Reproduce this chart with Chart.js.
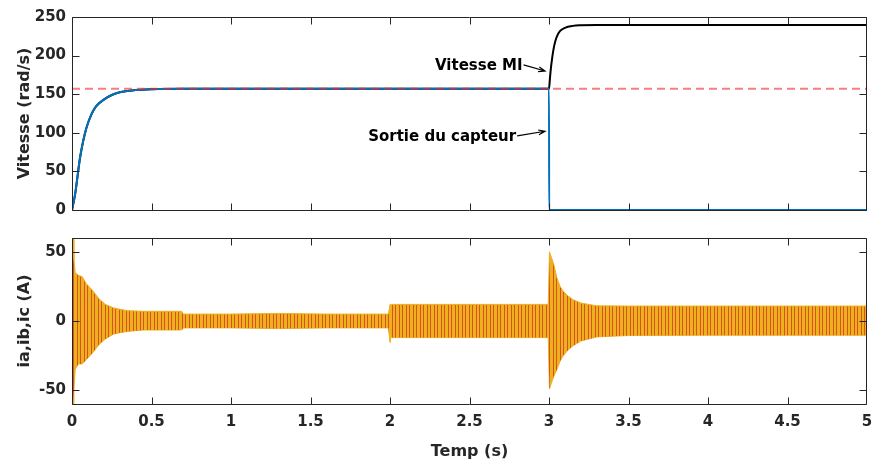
<!DOCTYPE html>
<html>
<head>
<meta charset="utf-8">
<script src="https://cdn.jsdelivr.net/npm/chart.js@4.4.0/dist/chart.umd.min.js"></script>
<style>
  html, body { margin: 0; padding: 0; background: #fff; }
  #wrap { position: relative; width: 873px; height: 459px; }
  #speedChart { position: absolute; left: 0; top: 0; }
  #currentChart { position: absolute; left: 0; top: 225px; }
</style>
</head>
<body>
<div id="wrap">
  <canvas id="speedChart" width="873" height="225"></canvas>
  <canvas id="currentChart" width="873" height="234"></canvas>
</div>
<script>
// axis ticks
const timeTicks = [0, 0.5, 1, 1.5, 2, 2.5, 3, 3.5, 4, 4.5, 5];
const speedTicks = [0, 50, 100, 150, 200, 250];
const currentTicks = [-50, 0, 50];

// start-up speed (shared by the motor and the sensor until t = 3 s)
const riseT = [0, 0.01, 0.02, 0.03, 0.04, 0.05, 0.07, 0.09, 0.12, 0.15, 0.2, 0.25, 0.3, 0.4, 0.5, 0.7, 1, 2, 3];
const riseW = [0, 10, 21, 36, 52, 67, 89, 106, 123, 134, 143, 149, 152.5, 155.3, 156.4, 157, 157, 157, 157];

// motor speed after the sensor fault
const motorT = [3.005, 3.01, 3.02, 3.03, 3.04, 3.05, 3.07, 3.1, 3.15, 3.2, 3.3, 4, 5];
const motorW = [168, 180, 197, 210, 219, 225, 232, 236, 238.5, 239.3, 239.7, 239.7, 239.7];

// sensor output after the fault
const sensorT = [3.001, 5];
const sensorW = [0, 0];

// speed reference
const refT = [0, 5];
const refW = [157, 157];

// stator currents envelope
const curT  = [0, 0.008, 0.012, 0.02, 0.04, 0.065, 0.09, 0.13, 0.17, 0.21, 0.26, 0.3, 0.35, 0.45, 0.69, 0.7, 1.0, 1.3, 1.6, 1.99, 2.0, 2.003, 2.01, 2.5, 2.995, 3.003, 3.015, 3.03, 3.05, 3.07, 3.09, 3.12, 3.15, 3.2, 3.25, 3.3, 3.5, 4, 4.5, 5];
const curHi = [60, 60, 45, 35, 33, 32, 27, 22, 16, 12, 9.5, 8.5, 7.5, 7, 7, 5, 5, 5.5, 5, 5, 12, 12, 12, 12, 12, 50, 46, 41, 31, 25, 21.5, 18, 15.5, 13, 12, 11, 10.8, 10.8, 10.8, 10.8];
const curLo = [-60, -60, -50, -35, -31, -31, -28, -23, -17, -13, -9.5, -8.5, -7.5, -6.5, -6.5, -5, -5, -5.5, -5, -5, -15.5, -12, -12, -12, -12, -49, -45, -40, -35, -29, -25, -21, -18, -14.5, -13, -11.5, -10.5, -10.3, -10.3, -10.3];

// arrows with labels, in data coordinates
const notes = [
  { text: 'Vitesse MI', from: [2.84, 188], to: [2.975, 180] },
  { text: 'Sortie du capteur', from: [2.80, 96], to: [2.975, 102] }
];

const INK = '#262626';
const FONT = "'DejaVu Sans', sans-serif";

function pts(xs, ys) {
  return xs.map((x, i) => ({ x: x, y: ys[i] }));
}

function useTicks(list) {
  return function (scale) {
    scale.ticks = list.map(v => ({ value: v }));
  };
}

// box + inward tick marks on all four sides
const frame = {
  id: 'frame',
  afterDatasetsDraw(chart) {
    const ctx = chart.ctx;
    const a = chart.chartArea;
    const sx = chart.scales.x, sy = chart.scales.y;
    const L = Math.floor(a.left) + 0.5, R = Math.floor(a.right) - 0.5;
    const T = Math.floor(a.top) + 0.5, B = Math.floor(a.bottom) + 0.5;
    const len = 7;
    const clampX = p => Math.min(R, Math.max(L, p));
    const clampY = p => Math.min(B, Math.max(T, p));
    ctx.save();
    ctx.strokeStyle = INK;
    ctx.lineWidth = 1;
    ctx.beginPath();
    ctx.rect(L, T, R - L, B - T);
    sx.ticks.forEach(t => {
      const p = clampX(Math.round(sx.getPixelForValue(t.value)) + 0.5);
      ctx.moveTo(p, B); ctx.lineTo(p, B - len);
      ctx.moveTo(p, T); ctx.lineTo(p, T + len);
    });
    sy.ticks.forEach(t => {
      const p = clampY(Math.round(sy.getPixelForValue(t.value)) + 0.5);
      ctx.moveTo(L, p); ctx.lineTo(L + len, p);
      ctx.moveTo(R, p); ctx.lineTo(R - len, p);
    });
    ctx.stroke();
    ctx.restore();
  }
};

const arrows = {
  id: 'arrows',
  afterDraw(chart) {
    const ctx = chart.ctx;
    const sx = chart.scales.x, sy = chart.scales.y;
    ctx.save();
    ctx.strokeStyle = '#000';
    ctx.fillStyle = '#000';
    ctx.lineWidth = 1.2;
    ctx.font = 'bold 15px ' + FONT;
    ctx.textAlign = 'right';
    ctx.textBaseline = 'middle';
    notes.forEach(n => {
      const x0 = sx.getPixelForValue(n.from[0]), y0 = sy.getPixelForValue(n.from[1]);
      const x1 = sx.getPixelForValue(n.to[0]), y1 = sy.getPixelForValue(n.to[1]);
      ctx.fillText(n.text, x0 - 1, y0 + 1);
      const ang = Math.atan2(y1 - y0, x1 - x0);
      ctx.beginPath();
      ctx.moveTo(x0, y0);
      ctx.lineTo(x1, y1);
      ctx.moveTo(x1 - 7 * Math.cos(ang - 0.35), y1 - 7 * Math.sin(ang - 0.35));
      ctx.lineTo(x1, y1);
      ctx.lineTo(x1 - 7 * Math.cos(ang + 0.35), y1 - 7 * Math.sin(ang + 0.35));
      ctx.stroke();
    });
    ctx.restore();
  }
};

function axisOptions(opts) {
  const tickFont = { family: FONT, size: 15, weight: 'bold' };
  const titleFont = { family: FONT, size: 16, weight: 'bold', lineHeight: 1 };
  return {
    x: {
      type: 'linear',
      min: 0, max: 5,
      afterBuildTicks: useTicks(timeTicks),
      afterFit: s => {
        s.height = opts.xHeight;
        s.paddingLeft = 0;
        s.paddingRight = 0;
      },
      grid: { display: false, drawTicks: false },
      border: { display: false },
      ticks: {
        display: opts.xLabels,
        padding: 9,
        color: INK,
        font: tickFont,
        maxRotation: 0,
        autoSkip: false,
        callback: v => String(v)
      },
      title: {
        display: opts.xLabels,
        text: 'Temp (s)',
        color: INK,
        font: titleFont,
        padding: { top: 0, bottom: -1 }
      }
    },
    y: {
      type: 'linear',
      min: opts.yMin, max: opts.yMax,
      afterBuildTicks: useTicks(opts.yTicks),
      afterFit: s => {
        s.width = 72;
        s.paddingTop = 0;
        s.paddingBottom = 0;
      },
      grid: { display: false, drawTicks: false },
      border: { display: false },
      ticks: {
        padding: 6,
        color: INK,
        font: tickFont,
        autoSkip: false,
        callback: v => String(v)
      },
      title: {
        display: true,
        text: opts.yTitle,
        color: INK,
        font: titleFont,
        padding: { top: 17, bottom: 0 }
      }
    }
  };
}

const common = {
  responsive: false,
  animation: false,
  events: [],
  plugins: { legend: { display: false }, tooltip: { enabled: false } },
  elements: { point: { radius: 0 } }
};

// speed subplot
new Chart(document.getElementById('speedChart'), {
  type: 'line',
  data: {
    datasets: [
      {
        label: 'Référence',
        data: pts(refT, refW),
        borderColor: 'rgba(240, 40, 40, 0.6)',
        borderWidth: 2,
        borderDash: [8, 5],
        order: 0
      },
      {
        label: 'Sortie du capteur',
        data: pts(riseT.concat(sensorT), riseW.concat(sensorW)),
        borderColor: '#0072BD',
        borderWidth: 2,
        cubicInterpolationMode: 'monotone',
        order: 1
      },
      {
        label: 'Vitesse MI',
        data: pts(riseT.concat(motorT), riseW.concat(motorW)),
        borderColor: '#000000',
        borderWidth: 2,
        cubicInterpolationMode: 'monotone',
        order: 2
      }
    ]
  },
  options: Object.assign({}, common, {
    layout: { padding: { top: 17, right: 6, bottom: 15, left: 0 } },
    scales: axisOptions({
      yMin: 0, yMax: 250, yTicks: speedTicks,
      yTitle: 'Vitesse (rad/s)',
      xLabels: false, xHeight: 0
    })
  }),
  plugins: [frame, arrows]
});

// vertical stripes of the three interleaved phases
function phaseStripes() {
  const c = document.createElement('canvas');
  c.width = 7; c.height = 1;
  const g = c.getContext('2d');
  g.fillStyle = '#EDB120';
  g.fillRect(0, 0, 7, 1);
  g.fillStyle = '#D95319';
  g.fillRect(0, 0, 1, 1);
  g.fillRect(3, 0, 1, 1);
  return g.createPattern(c, 'repeat');
}

// current subplot
new Chart(document.getElementById('currentChart'), {
  type: 'line',
  data: {
    datasets: [
      {
        label: 'ia,ib,ic max',
        data: pts(curT, curHi),
        borderColor: '#EDB120',
        borderWidth: 1,
        backgroundColor: phaseStripes(),
        fill: '+1',
        tension: 0
      },
      {
        label: 'ia,ib,ic min',
        data: pts(curT, curLo),
        borderColor: '#EDB120',
        borderWidth: 1,
        fill: false,
        tension: 0
      }
    ]
  },
  options: Object.assign({}, common, {
    layout: { padding: { top: 13, right: 6, bottom: 0, left: 0 } },
    scales: axisOptions({
      yMin: -60, yMax: 60, yTicks: currentTicks,
      yTitle: 'ia,ib,ic (A)',
      xLabels: true, xHeight: 55
    })
  }),
  plugins: [frame]
});
</script>
</body>
</html>
